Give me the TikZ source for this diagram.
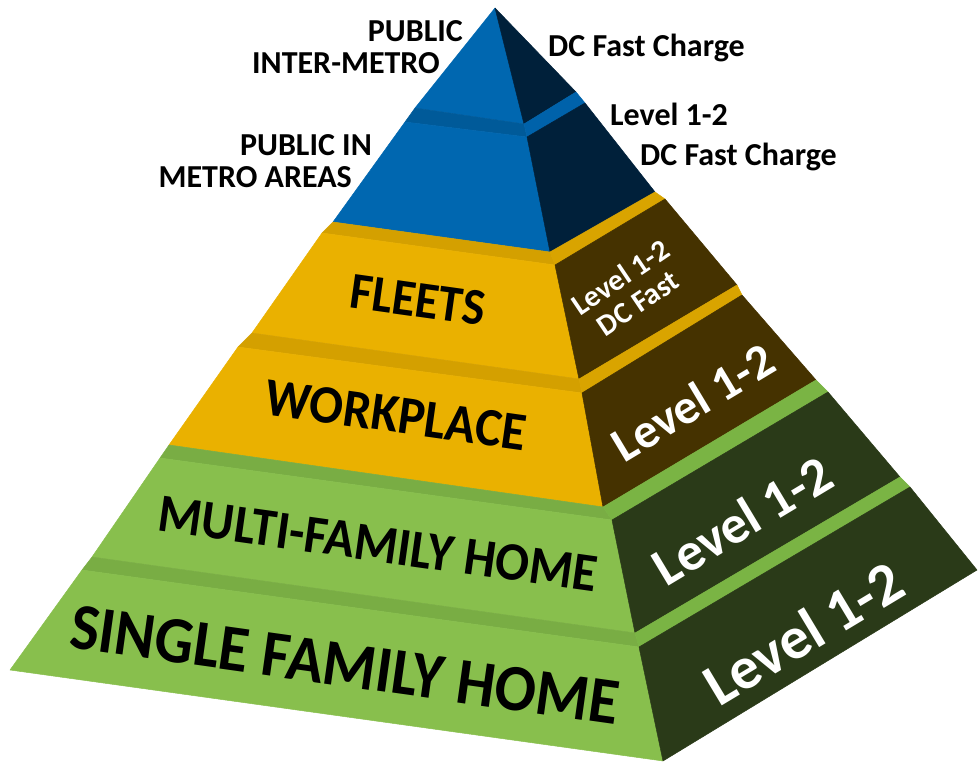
\documentclass[tikz,border=0pt]{standalone}
\usepackage{fontspec}
\setmainfont{Carlito}
\definecolor{blueL}{HTML}{0067B0}
\definecolor{blueD}{HTML}{00203A}
\definecolor{blueLL}{HTML}{005A99}
\definecolor{blueLR}{HTML}{0062AA}
\definecolor{yelL}{HTML}{EAB100}
\definecolor{yelD}{HTML}{453200}
\definecolor{yelLL}{HTML}{D4A000}
\definecolor{yelLR}{HTML}{D9A400}
\definecolor{grnL}{HTML}{88BF4D}
\definecolor{grnD}{HTML}{2A3A18}
\definecolor{grnLL}{HTML}{79AD44}
\definecolor{grnLR}{HTML}{7AB444}
\begin{document}
\begin{tikzpicture}[x=1pt,y=-1pt,
  face/.style={fill=#1,draw=#1,line width=0.5pt,line join=round},
  toplbl/.style={font=\bfseries\fontsize{32}{34}\selectfont,inner sep=0pt,text=black},
  lefttxt/.style={font=\bfseries\fontsize{#1}{#1}\selectfont,inner sep=0pt,text=black,rotate=-8},
  righttxt/.style={font=\bfseries\fontsize{#1}{#1}\selectfont,inner sep=0pt,text=white,rotate=31}]
\useasboundingbox (0,0) rectangle (978,762);
% vertices
\coordinate (A) at (495,8);
\coordinate (t1bl) at (415,108); \coordinate (t1br) at (524,124); \coordinate (t1brt) at (576,92);
\coordinate (t2tl) at (405,122); \coordinate (t2tr) at (527,137); \coordinate (t2trt) at (585,103);
\coordinate (t2bl) at (333,222); \coordinate (t2br) at (550,252); \coordinate (t2brt) at (655,192);
\coordinate (t3tl) at (322,233); \coordinate (t3tr) at (555,265); \coordinate (t3trt) at (665,199);
\coordinate (t3bl) at (252,333); \coordinate (t3br) at (579,379); \coordinate (t3brt) at (737,285);
\coordinate (t4tl) at (238,347); \coordinate (t4tr) at (582,393); \coordinate (t4trt) at (742,295);
\coordinate (t4bl) at (169,445); \coordinate (t4br) at (603,507); \coordinate (t4brt) at (816,380);
\coordinate (t5tl) at (160,458); \coordinate (t5tr) at (612,520); \coordinate (t5trt) at (828,392);
\coordinate (t5bl) at (92,557); \coordinate (t5br) at (635,633); \coordinate (t5brt) at (900,477);
\coordinate (t6tl) at (82,570); \coordinate (t6tr) at (639,647); \coordinate (t6trt) at (910,487);
\coordinate (t6bl) at (10,670); \coordinate (t6br) at (663,761); \coordinate (t6brt) at (977,570);
% tier 1
\fill[face=blueL] (A) -- (t1bl) -- (t1br) -- cycle;
\fill[face=blueD] (A) -- (t1br) -- (t1brt) -- cycle;
% ledge 1-2
\fill[face=blueLL] (t2tl) -- (t1bl) -- (t1br) -- (t2tr) -- cycle;
\fill[face=blueLR] (t2tr) -- (t1br) -- (t1brt) -- (t2trt) -- cycle;
% tier 2
\fill[face=blueL] (t2tl) -- (t2tr) -- (t2br) -- (t2bl) -- cycle;
\fill[face=blueD] (t2tr) -- (t2trt) -- (t2brt) -- (t2br) -- cycle;
% ledge 2-3
\fill[face=yelLL] (t3tl) -- (t2bl) -- (t2br) -- (t3tr) -- cycle;
\fill[face=yelLR] (t3tr) -- (t2br) -- (t2brt) -- (t3trt) -- cycle;
% tier 3
\fill[face=yelL] (t3tl) -- (t3tr) -- (t3br) -- (t3bl) -- cycle;
\fill[face=yelD] (t3tr) -- (t3trt) -- (t3brt) -- (t3br) -- cycle;
% ledge 3-4
\fill[face=yelLL] (t4tl) -- (t3bl) -- (t3br) -- (t4tr) -- cycle;
\fill[face=yelLR] (t4tr) -- (t3br) -- (t3brt) -- (t4trt) -- cycle;
% tier 4
\fill[face=yelL] (t4tl) -- (t4tr) -- (t4br) -- (t4bl) -- cycle;
\fill[face=yelD] (t4tr) -- (t4trt) -- (t4brt) -- (t4br) -- cycle;
% ledge 4-5
\fill[face=grnLL] (t5tl) -- (t4bl) -- (t4br) -- (t5tr) -- cycle;
\fill[face=grnLR] (t5tr) -- (t4br) -- (t4brt) -- (t5trt) -- cycle;
% tier 5
\fill[face=grnL] (t5tl) -- (t5tr) -- (t5br) -- (t5bl) -- cycle;
\fill[face=grnD] (t5tr) -- (t5trt) -- (t5brt) -- (t5br) -- cycle;
% ledge 5-6
\fill[face=grnLL] (t6tl) -- (t5bl) -- (t5br) -- (t6tr) -- cycle;
\fill[face=grnLR] (t6tr) -- (t5br) -- (t5brt) -- (t6trt) -- cycle;
% tier 6
\fill[face=grnL] (t6tl) -- (t6tr) -- (t6br) -- (t6bl) -- cycle;
\fill[face=grnD] (t6tr) -- (t6trt) -- (t6brt) -- (t6br) -- cycle;
% top labels
\node[toplbl,anchor=base east] (pub1) at (463,42) {PUBLIC};
\node[toplbl,anchor=base east] (pub2) at (440,74) {INTER-METRO};
\node[toplbl,anchor=base west] (dc1) at (548,57) {DC Fast Charge};
\node[toplbl,anchor=base west] (lv2) at (610,126) {Level 1-2};
\node[toplbl,anchor=base west] (dc2) at (640,166) {DC Fast Charge};
\node[toplbl,anchor=base east] (pin1) at (372,156) {PUBLIC IN};
\node[toplbl,anchor=base east] (pin2) at (352,188) {METRO AREAS};
% face labels
\node[lefttxt=48,yscale=1.08] (fleets) at (418,300) {FLEETS};
\node[lefttxt=50,yscale=1.08] (work) at (396,415) {WORKPLACE};
\node[lefttxt=50,yscale=1.08] (multi) at (378,544) {MULTI-FAMILY HOME};
\node[lefttxt=61,yscale=1.08] (single) at (345,665) {SINGLE FAMILY HOME};
\node[righttxt=30,rotate=3,align=center,font=\bfseries\fontsize{30}{31}\selectfont] (r3) at (629,290) {Level 1-2\\DC Fast};
\node[righttxt=49] (r4) at (693,402) {Level 1-2};
\node[righttxt=54] (r5) at (742,520) {Level 1-2};
\node[righttxt=60] (r6) at (803,633) {Level 1-2};
\end{tikzpicture}
\end{document}
